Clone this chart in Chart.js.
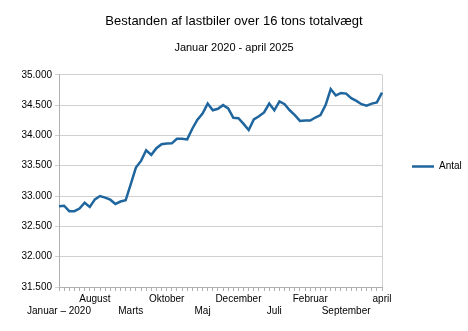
<!DOCTYPE html>
<html lang="da">
<head>
  <meta charset="UTF-8" />
  <title>Bestanden af lastbiler over 16 tons totalvægt</title>
  <script src="https://cdn.jsdelivr.net/npm/chart.js"></script>
  <style>
    body { margin: 0; background: #ffffff; }
    .wrap { width: 468px; height: 331px; }
  </style>
</head>
<body>
  <div class="wrap"><canvas id="chart"></canvas></div>

  <script>
    // Data: jan 2020 - apr 2025, én værdi pr. måned
    const maaneder = [
      ['', 'Januar – 2020'], '', '', '', '', '', '',
      ['August', ''], '', '', '', '', '', '',
      ['', 'Marts'], '', '', '', '', '', '',
      ['Oktober', ''], '', '', '', '', '', '',
      ['', 'Maj'], '', '', '', '', '', '',
      ['December', ''], '', '', '', '', '', '',
      ['', 'Juli'], '', '', '', '', '', '',
      ['Februar', ''], '', '', '', '', '', '',
      ['', 'September'], '', '', '', '', '', '',
      ['april', '']
    ];
    const antal = [
      32830, 32840, 32750, 32750, 32795, 32890, 32820, 32945, 33000, 32975,
      32940, 32870, 32910, 32930, 33195, 33470, 33580, 33755, 33680, 33790,
      33855, 33865, 33870, 33945, 33945, 33935, 34110, 34260, 34360, 34525,
      34415, 34440, 34500, 34445, 34290, 34285, 34190, 34090, 34265, 34315,
      34380, 34525, 34415, 34560, 34515, 34415, 34335, 34240, 34245, 34245,
      34295, 34335, 34500, 34765, 34660, 34700, 34690, 34615, 34570, 34515,
      34490, 34525, 34545, 34705
    ];
    const yMin = 31500;
    const yMax = 35000;
    const yStep = 500;

    const fmt = v => String(v).replace(/\B(?=(\d{3})+(?!\d))/g, '.');

    Chart.defaults.font.family = "'Liberation Sans', Arial, sans-serif";
    Chart.defaults.color = '#000000';

    const ctx = document.getElementById('chart').getContext('2d');
    new Chart(ctx, {
      type: 'line',
      data: {
        labels: maaneder,
        datasets: [{
          label: 'Antal',
          data: antal,
          borderColor: '#1f669f',
          backgroundColor: '#1f669f',
          borderWidth: 2.5,
          pointRadius: 0,
          tension: 0,
          fill: false
        }]
      },
      options: {
        responsive: true,
        maintainAspectRatio: false,
        animation: false,
        layout: { padding: { left: 0, right: 0, top: 0, bottom: 12 } },
        plugins: {
          title: {
            display: true,
            text: 'Bestanden af lastbiler over 16 tons totalvægt',
            font: { size: 13, weight: 'normal' },
            padding: { top: 14, bottom: 12 }
          },
          subtitle: {
            display: true,
            text: 'Januar 2020 - april 2025',
            font: { size: 11 },
            padding: { bottom: 20 }
          },
          legend: {
            position: 'right',
            maxWidth: 86,
            title: { display: true, text: ' ', font: { size: 10 }, padding: { top: 1, bottom: 1 } },
            labels: {
              usePointStyle: true,
              pointStyle: 'line',
              pointStyleWidth: 22,
              font: { size: 10 },
              padding: 30
            }
          },
          tooltip: { enabled: false }
        },
        scales: {
          x: {
            offset: false,
            grid: {
              color: c => c.index === antal.length - 1 ? '#d0d0d0' : 'rgba(0,0,0,0)',
              tickColor: '#b0b0b0',
              tickLength: 4,
              drawOnChartArea: true
            },
            border: { color: '#b0b0b0' },
            ticks: {
              autoSkip: false,
              maxRotation: 0,
              minRotation: 0,
              padding: 2,
              font: { size: 10 }
            }
          },
          y: {
            min: yMin,
            max: yMax,
            afterFit: s => { s.width = 59; },
            grid: { color: '#d0d0d0', tickLength: 4, tickColor: '#d0d0d0' },
            border: { color: '#b0b0b0' },
            ticks: {
              stepSize: yStep,
              padding: 3,
              font: { size: 10 },
              callback: v => fmt(v)
            }
          }
        }
      }
    });
  </script>
</body>
</html>
